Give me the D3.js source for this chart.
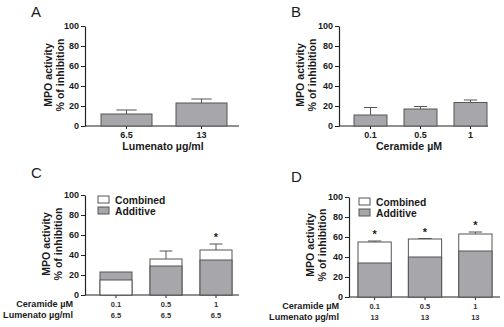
<!DOCTYPE html>
<html>
<head>
<meta charset="utf-8">
<script src="https://cdn.jsdelivr.net/npm/d3@7"></script>
<style>
  body { margin: 0; background: #fff; }
  text { font-family: "Liberation Sans", Arial, sans-serif; fill: #1a1a1a; }
  .tick-label { font-size: 9px; font-weight: bold; }
  .axis-title { font-size: 10.6px; font-weight: bold; }
  .panel-letter { font-size: 15px; }
  .legend-label { font-size: 10.3px; font-weight: bold; }
  .row-title { font-size: 9.1px; font-weight: bold; }
  .row-value { font-size: 7.5px; font-weight: bold; fill: #333; }
</style>
</head>
<body>
<svg id="chart" width="504" height="327"></svg>
<script>
// data
const lumenatoDoses = ["6.5", "13"];
const lumenatoMean = [12, 23];
const lumenatoErr = [4, 4];

const ceramideDoses = ["0.1", "0.5", "1"];
const ceramideMean = [11, 17, 23.5];
const ceramideErr = [7.5, 2.5, 2.5];

const comboCeramide = ["0.1", "0.5", "1"];
const comboLowLumenato = ["6.5", "6.5", "6.5"];
const comboLowCombined = [15, 36, 45];
const comboLowCombinedErr = [6, 8, 6];
const comboLowAdditive = [23, 29, 35];
const comboLowStars = ["", "", "*"];

const comboHighLumenato = ["13", "13", "13"];
const comboHighCombined = [55, 58, 63];
const comboHighCombinedErr = [1, 0.5, 2];
const comboHighAdditive = [34, 40, 46];
const comboHighStars = ["*", "*", "*"];

const yTicks = [0, 20, 40, 60, 80, 100];
const legendLabels = ["Combined", "Additive"];

const grey = "#a7a7ab";
const outline = "#555";
const axisColor = "#222";

const svg = d3.select("#chart");

const drawAxes = (g, p) => {
    const y = d3.scaleLinear().domain([0, 100]).range([p.y0, p.y1]);
    const x = d3.scaleBand().domain(p.cats).range(p.band).paddingInner(p.pad).paddingOuter(0);

    const yAxis = g.append("g")
        .attr("transform", `translate(${p.axisX},0)`)
        .call(d3.axisLeft(y).tickValues(yTicks).tickSize(4).tickPadding(2).tickSizeOuter(0));
    yAxis.select(".domain").attr("stroke", axisColor).attr("stroke-width", 1.2);
    yAxis.selectAll(".tick line").attr("stroke", axisColor);
    yAxis.selectAll(".tick text").attr("class", "tick-label").attr("fill", "#1a1a1a");

    const xAxis = g.append("g")
        .attr("transform", `translate(0,${p.y0})`);
    xAxis.append("line")
        .attr("x1", p.axisX).attr("x2", p.axisEnd)
        .attr("stroke", axisColor).attr("stroke-width", 1.2);
    xAxis.selectAll(".xt")
        .data(p.cats)
        .enter().append("line")
        .attr("x1", d => x(d) + x.bandwidth() / 2)
        .attr("x2", d => x(d) + x.bandwidth() / 2)
        .attr("y1", 0).attr("y2", 3)
        .attr("stroke", axisColor);

    const title = g.append("g")
        .attr("transform", `translate(${p.titleX},${p.titleY}) rotate(-90)`);
    title.append("text").attr("class", "axis-title")
        .attr("text-anchor", "middle").attr("y", 0).text("MPO activity");
    title.append("text").attr("class", "axis-title")
        .attr("text-anchor", "middle").attr("y", 12).text("% of inhibition");

    g.append("text").attr("class", "panel-letter")
        .attr("x", p.letterX).attr("y", p.letterY).text(p.letter);

    return { x, y };
};

const drawErrors = (g, x, y, cats, means, errs) => {
    const cap = x.bandwidth() * 0.2;
    cats.forEach((c, i) => {
        const cx = x(c) + x.bandwidth() / 2;
        g.append("line")
            .attr("x1", cx).attr("x2", cx)
            .attr("y1", y(means[i])).attr("y2", y(means[i] + errs[i]))
            .attr("stroke", outline).attr("stroke-width", 1);
        g.append("line")
            .attr("x1", cx - cap).attr("x2", cx + cap)
            .attr("y1", y(means[i] + errs[i])).attr("y2", y(means[i] + errs[i]))
            .attr("stroke", outline).attr("stroke-width", 1);
    });
};

const drawSimple = (p, cats, means, errs, xTitle) => {
    const g = svg.append("g");
    const { x, y } = drawAxes(g, Object.assign({ cats }, p));
    drawErrors(g, x, y, cats, means, errs);
    g.selectAll(".bar")
        .data(cats)
        .enter().append("rect")
        .attr("x", d => x(d))
        .attr("width", x.bandwidth())
        .attr("y", (d, i) => y(means[i]))
        .attr("height", (d, i) => p.y0 - y(means[i]))
        .attr("fill", grey).attr("stroke", outline).attr("stroke-width", 1);
    g.selectAll(".xl")
        .data(cats)
        .enter().append("text")
        .attr("class", "tick-label")
        .attr("text-anchor", "middle")
        .attr("x", d => x(d) + x.bandwidth() / 2)
        .attr("y", p.y0 + 12)
        .text(d => d);
    g.append("text").attr("class", "axis-title")
        .attr("text-anchor", "middle")
        .attr("x", p.xTitleX).attr("y", p.y0 + 24)
        .text(xTitle);
};

const drawCombo = (p, cats, lumenato, combined, combinedErr, additive, stars) => {
    const g = svg.append("g");
    const { x, y } = drawAxes(g, Object.assign({ cats }, p));
    drawErrors(g, x, y, cats, combined, combinedErr);
    cats.forEach((c, i) => {
        // the taller bar goes behind, the shorter one in front
        const bars = [
            { v: combined[i], fill: "#fff" },
            { v: additive[i], fill: grey }
        ].sort((a, b) => b.v - a.v);
        bars.forEach(b => {
            g.append("rect")
                .attr("x", x(c)).attr("width", x.bandwidth())
                .attr("y", y(b.v)).attr("height", p.y0 - y(b.v))
                .attr("fill", b.fill).attr("stroke", outline).attr("stroke-width", 1);
        });
        if (stars[i]) {
            g.append("text").attr("class", "legend-label")
                .attr("text-anchor", "middle")
                .attr("x", x(c) + x.bandwidth() / 2)
                .attr("y", y(combined[i] + combinedErr[i]) - 3)
                .style("font-size", "11px")
                .text(stars[i]);
        }
    });

    const legend = g.append("g").attr("transform", `translate(${p.legendX},${p.legendY})`);
    legendLabels.forEach((l, i) => {
        legend.append("rect")
            .attr("x", 0).attr("y", i * 11)
            .attr("width", 11).attr("height", 7)
            .attr("fill", i === 0 ? "#fff" : grey)
            .attr("stroke", outline).attr("stroke-width", 1);
        legend.append("text").attr("class", "legend-label")
            .attr("x", 17).attr("y", i * 11 + 7.5).text(l);
    });

    const rows = [
        { title: "Ceramide \u00b5M", vals: cats, dy: 12 },
        { title: "Lumenato \u00b5g/ml", vals: lumenato, dy: 23 }
    ];
    rows.forEach(r => {
        g.append("text").attr("class", "row-title")
            .attr("text-anchor", "end")
            .attr("x", p.rowRight).attr("y", p.y0 + r.dy)
            .text(r.title);
        g.selectAll(null)
            .data(r.vals)
            .enter().append("text")
            .attr("class", "row-value")
            .attr("text-anchor", "middle")
            .attr("x", (d, i) => x(cats[i]) + x.bandwidth() / 2)
            .attr("y", p.y0 + r.dy)
            .text(d => d);
    });
};

drawSimple({
    y0: 126, y1: 26, axisX: 85, axisEnd: 239, band: [101, 227], pad: 0.32,
    titleX: 52, titleY: 75, letter: "A", letterX: 31, letterY: 17, xTitleX: 163
}, lumenatoDoses, lumenatoMean, lumenatoErr, "Lumenato \u00b5g/ml");

drawSimple({
    y0: 126, y1: 26, axisX: 339, axisEnd: 488, band: [354, 487], pad: 0.34,
    titleX: 304, titleY: 75, letter: "B", letterX: 291, letterY: 17, xTitleX: 409
}, ceramideDoses, ceramideMean, ceramideErr, "Ceramide \u00b5M");

drawCombo({
    y0: 295, y1: 195, axisX: 85, axisEnd: 239, band: [100, 232], pad: 0.36,
    titleX: 50, titleY: 244, letter: "C", letterX: 31, letterY: 178,
    legendX: 98, legendY: 196, rowRight: 73
}, comboCeramide, comboLowLumenato, comboLowCombined, comboLowCombinedErr, comboLowAdditive, comboLowStars);

drawCombo({
    y0: 297, y1: 197, axisX: 349, axisEnd: 500, band: [358, 492], pad: 0.34,
    titleX: 314, titleY: 245, letter: "D", letterX: 291, letterY: 182,
    legendX: 359, legendY: 198, rowRight: 339
}, comboCeramide, comboHighLumenato, comboHighCombined, comboHighCombinedErr, comboHighAdditive, comboHighStars);
</script>
</body>
</html>
